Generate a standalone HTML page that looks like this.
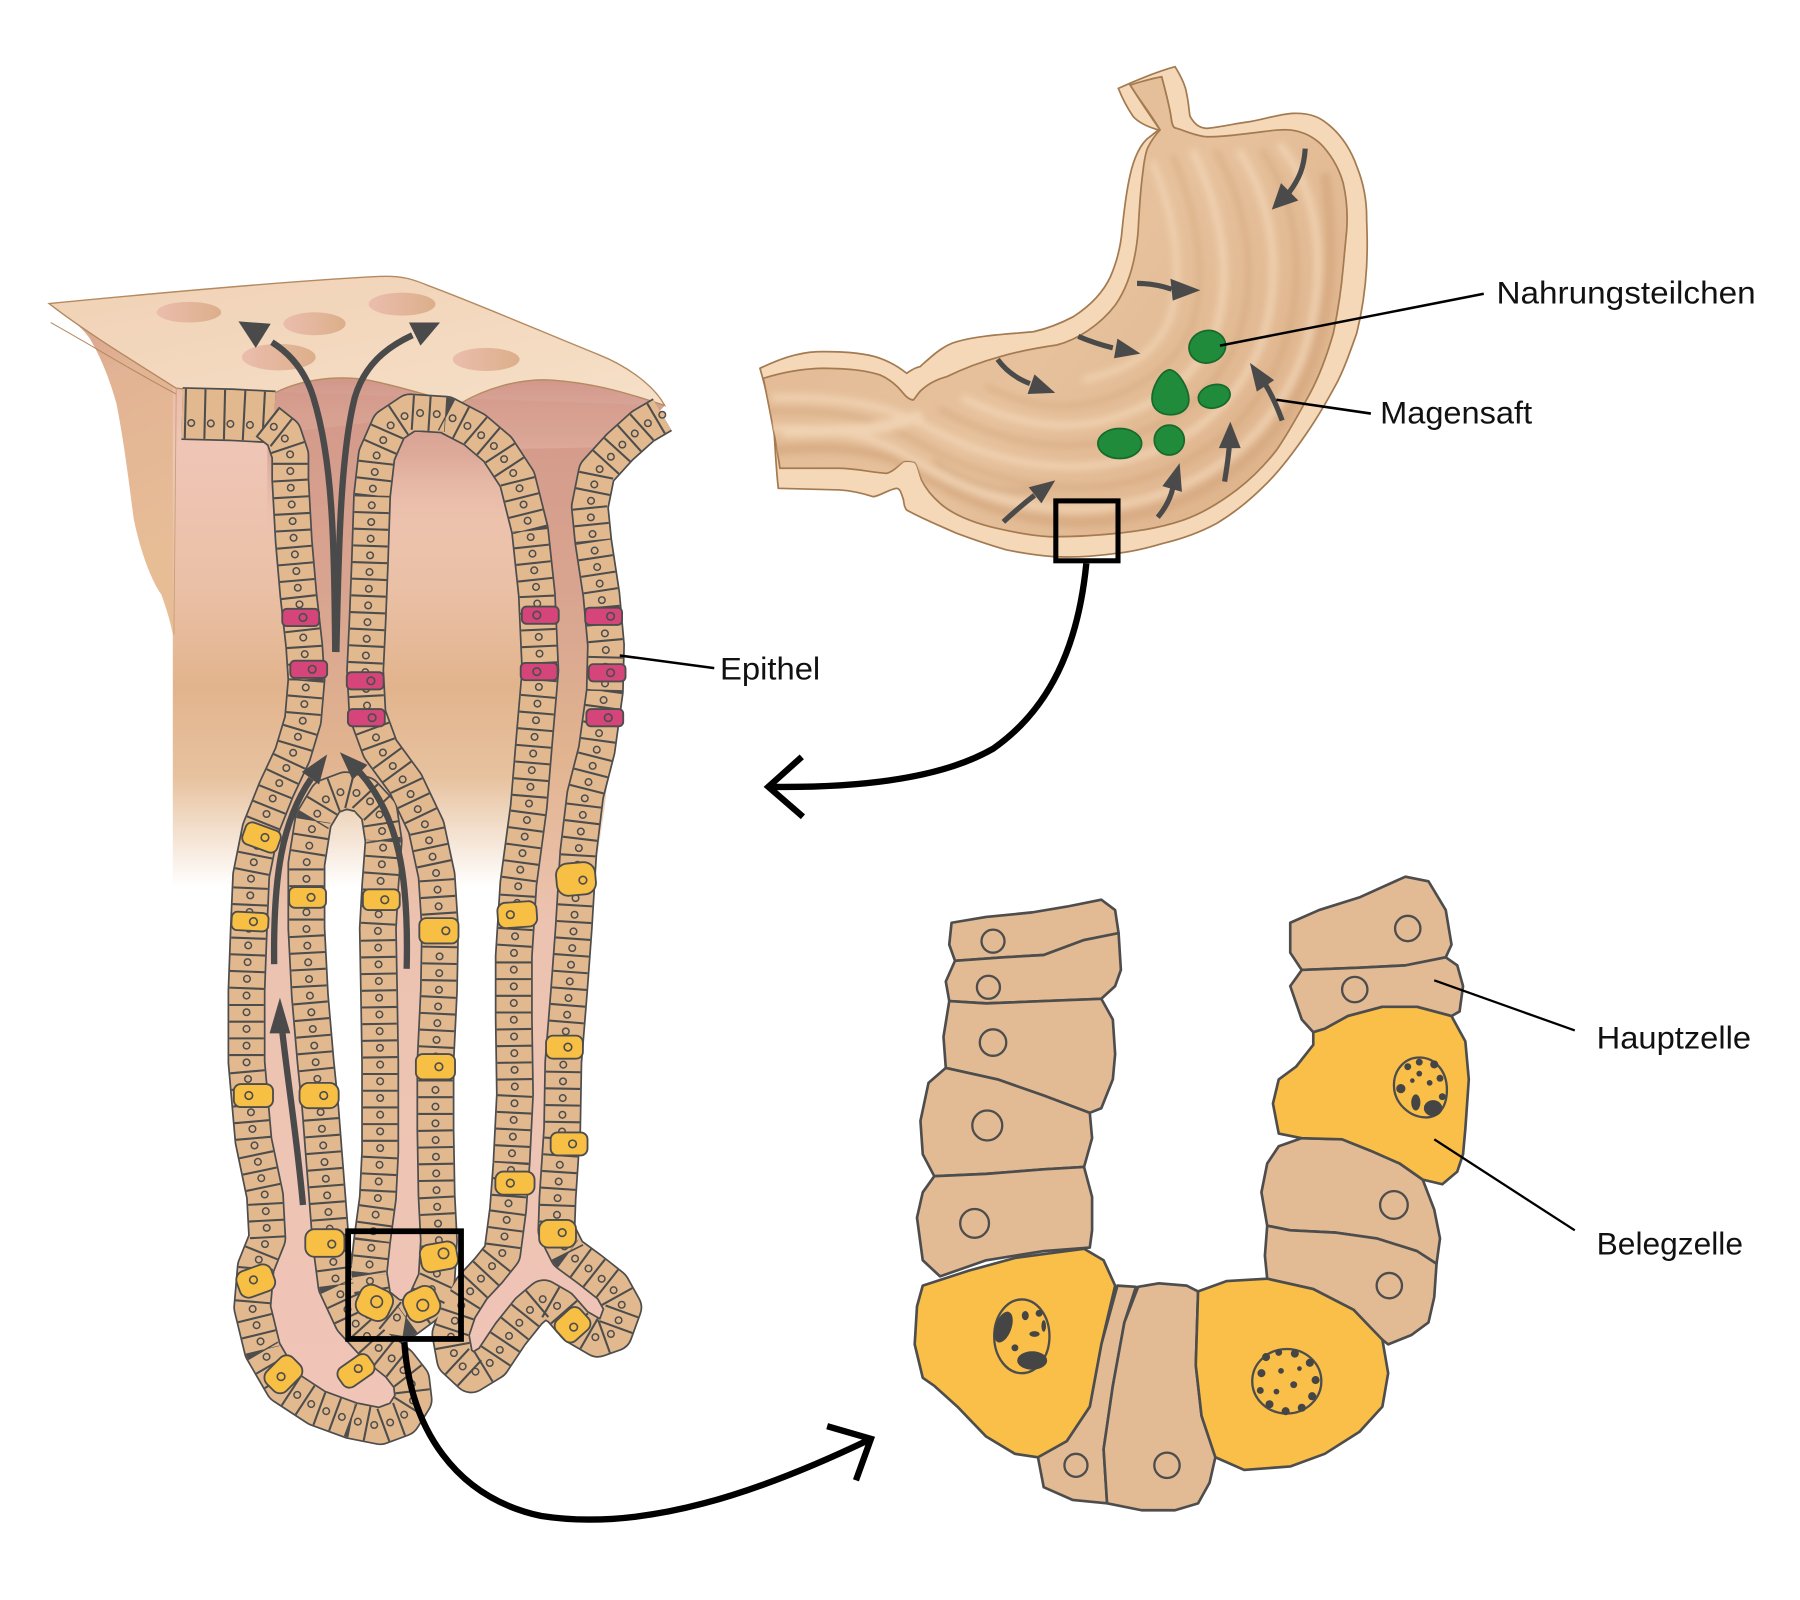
<!DOCTYPE html>
<html><head><meta charset="utf-8">
<style>
html,body{margin:0;padding:0;background:#fff;}
svg{display:block;}
text{font-family:"Liberation Sans",Arial,sans-serif;fill:#111;}
</style></head>
<body>
<svg width="1800" height="1600" viewBox="0 0 1562.5 1388.9" preserveAspectRatio="none" xmlns="http://www.w3.org/2000/svg">
<defs>
  <linearGradient id="faceG" gradientUnits="userSpaceOnUse" x1="0" y1="337" x2="0" y2="770">
    <stop offset="0" stop-color="#ebbcab"/>
    <stop offset="0.12" stop-color="#efc6b6"/>
    <stop offset="0.4" stop-color="#eac0a6"/>
    <stop offset="0.6" stop-color="#e2b48d"/>
    <stop offset="0.78" stop-color="#e7c29f"/>
    <stop offset="0.9" stop-color="#f4e3d3"/>
    <stop offset="1" stop-color="#ffffff"/>
  </linearGradient>
  <linearGradient id="lumG" gradientUnits="userSpaceOnUse" x1="0" y1="360" x2="0" y2="1240">
    <stop offset="0" stop-color="#d49a8b"/>
    <stop offset="0.2" stop-color="#d9a690"/>
    <stop offset="0.33" stop-color="#e1b38f"/>
    <stop offset="0.5" stop-color="#ecc3b0"/>
    <stop offset="1" stop-color="#f0c5b8"/>
  </linearGradient>
  <linearGradient id="domeG" gradientUnits="userSpaceOnUse" x1="0" y1="330" x2="0" y2="460">
    <stop offset="0" stop-color="#d2988a" stop-opacity="1"/>
    <stop offset="0.5" stop-color="#d59d8d" stop-opacity="0.7"/>
    <stop offset="1" stop-color="#e6b7a6" stop-opacity="0"/>
  </linearGradient>
  <linearGradient id="sideG" gradientUnits="userSpaceOnUse" x1="42" y1="263" x2="150" y2="470">
    <stop offset="0" stop-color="#d69e8e"/>
    <stop offset="0.35" stop-color="#e2b394"/>
    <stop offset="1" stop-color="#e7bd96"/>
  </linearGradient>
  <linearGradient id="topG" x1="0" y1="0" x2="1" y2="1">
    <stop offset="0" stop-color="#f0d1b5"/>
    <stop offset="1" stop-color="#f6e0c8"/>
  </linearGradient>
  <linearGradient id="pitG" x1="0" y1="0" x2="1" y2="0">
    <stop offset="0" stop-color="#ebbdae"/>
    <stop offset="1" stop-color="#dcaf8a"/>
  </linearGradient>
  <linearGradient id="cavG" gradientUnits="userSpaceOnUse" x1="700" y1="100" x2="1150" y2="470">
    <stop offset="0" stop-color="#e2b994"/>
    <stop offset="0.5" stop-color="#e6c19c"/>
    <stop offset="1" stop-color="#dcb088"/>
  </linearGradient>
  <filter id="bl" x="-10%" y="-10%" width="120%" height="120%"><feGaussianBlur stdDeviation="3"/></filter>
  <clipPath id="cavClip"><path id="cavPath" d="M981,73.8 C990,71 1000,68 1008.4,66.6 C1012,80 1016,95 1017,105 C1018,110 1019,111 1021.4,111.4 C1030,114 1038,118 1047.5,118.7 C1062,119 1073,117 1085,115.7 C1100,114 1110,112 1119.8,112.8 C1132,114 1142,120 1148.7,127.3 C1158,138 1163,148 1166,159.1 C1169,172 1170,185 1169,199.7 L1166,231.5 C1164,255 1161,272 1157.4,289.3 C1152,308 1146,325 1137.2,341.4 C1128,358 1119,375 1108.2,390.6 C1097,405 1087,415 1073.5,425.3 C1058,437 1043,446 1027.2,451.4 C1008,458 990,461 969.4,463 C950,465 930,466 911.5,465.9 C895,465 875,461 859.4,457.2 C840,452 825,445 816,436.9 C808,430 803,423 800,416.7 C797,408 796,401 792.8,400.8 C788,400 786,400 784.1,400.8 C780,404 776,409 769.7,410.9 C756,410 745,407 729,406.5 L677,406.5 C674,385 668,355 662.6,328.4 C680,323 697,320 714.7,319.7 C735,320 750,321 763.9,325.5 C772,329 779,335 784.1,341.4 C787,345 790,347 792.8,347.2 C795,345 797,341 800,338.5 C806,333 814,329 821.8,327 C836,320 852,314 868,309.6 C884,305 900,302 917.3,299.5 C935,295 955,282 968,265 C980,248 986,225 988,200 C989,180 990,165 992,150 C993,140 995,130 996.8,127.3 C1000,121 1004,116 1007,112.8 C998,100 990,88 981,73.8 Z"/></clipPath>
  <polyline id="ch" points="232,366 246,377 252,395 252,416 255,470 259,516 264,560 266,590 263,625 254,655 240,685 226,720 218,760 216,806 214,860 214,922 220,990 230,1038 232,1075 222,1100 219,1135 228,1172 246,1203 275,1222 305,1233 330,1238 349,1231 359,1215 357,1198 346,1184 326,1168 306,1146 292,1116 287,1077 284,1038 281,1000 278,961 274,922 269,864 266,806 266,750 272,712 284,692 300,686 316,690 329,704 333,730 330,770 328,806 329,860 330,922 330,1000 328,1040 323,1077 320,1105 324,1130 340,1143 353,1145 368,1134 379,1110 381,1077 379,1038 378,980 378,922 381,860 382,806 379,760 370,718 352,680 330,650 319,620 317,582 319,540 321,490 323,430 327,395 338,370 356,358 387,360 412,373 432,390 449,416 460,460 466,516 469,582 464,640 459,700 450,767 446,830 446,884 447,950 444,1010 441,1050 436,1088 424,1103 410,1118 398,1137 391,1158 395,1180 409,1193 427,1182 443,1158 459,1138 472,1127 486,1135 500,1151 519,1162 533,1157 541,1135 531,1117 512,1102 493,1088 483,1068 484,1040 488,980 489,922 494,860 498,806 502,740 508,690 518,651 525,600 526,560 522,516 515,470 512,440 518,410 538,388 558,370 575,360"/>
  <polyline id="tl" points="158,359 200,360 238,362"/>
</defs>

<!-- ================= LEFT BLOCK ================= -->
<path d="M42.6,263.5 C60,275 72,285 78,294 C92,318 98,340 101,350 C108,385 112,420 116,450 C122,480 132,505 140,516 C145,530 148,540 150,551 L153,337 Z" fill="url(#sideG)"/>
<path d="M150,337 L577,352 L560,372 L535,395 L525,430 L530,520 L535,600 L525,700 L515,770 L150,770 Z" fill="url(#faceG)"/>
<path d="M232,345 C255,330 290,325 320,330 C350,336 375,345 400,350 C420,338 450,328 480,330 C520,333 550,343 577,352 L545,385 L528,420 L525,460 L232,460 Z" fill="url(#domeG)"/>
<polygon fill="url(#lumG)" points="248,375 252,395 252,416 255,470 259,516 264,560 266,590 263,625 254,655 240,685 226,720 218,760 216,806 214,860 214,922 220,990 230,1038 232,1075 222,1100 219,1135 228,1172 246,1203 275,1222 305,1233 330,1238 349,1231 359,1215 357,1198 346,1184 326,1168 306,1146 292,1116 287,1077 284,1038 281,1000 278,961 274,922 269,864 266,806 266,750 272,712 284,692 300,686 316,690 329,704 333,730 330,770 328,806 329,860 330,922 330,1000 328,1040 323,1077 320,1105 324,1130 340,1143 353,1145 368,1134 379,1110 381,1077 379,1038 378,980 378,922 381,860 382,806 379,760 370,718 352,680 330,650 319,620 317,582 319,540 321,490 323,430 326,390 338,365"/>
<polygon fill="url(#lumG)" points="432,390 449,416 460,460 466,516 469,582 464,640 459,700 450,767 446,830 446,884 447,950 444,1010 441,1050 436,1088 424,1103 410,1118 398,1137 391,1158 395,1180 409,1193 427,1182 443,1158 459,1138 472,1127 486,1135 500,1151 519,1162 533,1157 541,1135 531,1117 512,1102 493,1088 483,1068 484,1040 488,980 489,922 494,860 498,806 502,740 508,690 518,651 525,600 526,560 522,516 515,470 512,440 518,410 538,388"/>

<path d="M42.6,263.5 C120,256 250,244 329,240 C350,239 360,243 372,248 C420,266 480,292 520,308 C545,318 568,335 577,352 C550,343 520,333 480,330 C450,328 420,338 400,350 C375,345 350,336 320,330 C290,325 255,330 232,345 L153,337 C110,310 70,285 42.6,263.5 Z" fill="url(#topG)" stroke="#b48a60" stroke-width="1.2"/>
<path d="M44,280 C80,300 120,325 153,342" fill="none" stroke="#b48a60" stroke-width="0.9"/>
<path d="M153,337 L151,551" fill="none" stroke="#c9a07a" stroke-width="0.8"/>
<ellipse cx="164" cy="271" rx="28" ry="9" fill="url(#pitG)"/>
<ellipse cx="273" cy="281" rx="27" ry="10" fill="url(#pitG)"/>
<ellipse cx="349" cy="264" rx="29" ry="10" fill="url(#pitG)"/>
<ellipse cx="242" cy="310" rx="32" ry="11.5" fill="url(#pitG)"/>
<ellipse cx="422" cy="312" rx="29" ry="10" fill="url(#pitG)"/>

<g fill="none" stroke-linejoin="round">
  <use href="#tl" stroke="#4d4d4d" stroke-width="46"/>
  <use href="#tl" stroke="#e2b98e" stroke-width="43"/>
  <use href="#tl" stroke="#4d4d4d" stroke-width="43" stroke-dasharray="1.8 15.2" stroke-dashoffset="-2"/>
  <use href="#tl" stroke="#4d4d4d" stroke-width="7" stroke-dasharray="0 17" stroke-dashoffset="-8" stroke-linecap="round" transform="translate(0,8)"/>
  <use href="#tl" stroke="#e2b98e" stroke-width="4.4" stroke-dasharray="0 17" stroke-dashoffset="-8" stroke-linecap="round" transform="translate(0,8)"/>
</g>
<g fill="none" stroke-linejoin="round">
  <use href="#ch" stroke="#4d4d4d" stroke-width="33"/>
  <use href="#ch" stroke="#e2b98e" stroke-width="30"/>
  <use href="#ch" stroke="#4d4d4d" stroke-width="30" stroke-dasharray="1.8 12.7"/>
  <use href="#ch" stroke="#4d4d4d" stroke-width="7" stroke-dasharray="0 14.5" stroke-dashoffset="-7.2" stroke-linecap="round"/>
  <use href="#ch" stroke="#e2b98e" stroke-width="4.4" stroke-dasharray="0 14.5" stroke-dashoffset="-7.2" stroke-linecap="round"/>
</g>

<g stroke="#4d4d4d" stroke-width="1.6">
  <g fill="#d6457a">
    <rect x="-16" y="-7.5" width="32" height="15" rx="4" transform="translate(261,536)"/>
    <rect x="-16" y="-7.5" width="32" height="15" rx="4" transform="translate(268,581)"/>
    <rect x="-16" y="-7.5" width="32" height="15" rx="4" transform="translate(317,591)"/>
    <rect x="-16" y="-7.5" width="32" height="15" rx="4" transform="translate(318,623)"/>
    <rect x="-16" y="-7.5" width="32" height="15" rx="4" transform="translate(469,534)"/>
    <rect x="-16" y="-7.5" width="32" height="15" rx="4" transform="translate(468,583)"/>
    <rect x="-16" y="-7.5" width="32" height="15" rx="4" transform="translate(524,535)"/>
    <rect x="-16" y="-7.5" width="32" height="15" rx="4" transform="translate(527,584)"/>
    <rect x="-16" y="-7.5" width="32" height="15" rx="4" transform="translate(525,623)"/>
  </g>
  <g fill="#f8bf45">
    <rect x="-16" y="-10" width="32" height="20" rx="6" transform="translate(227,727) rotate(20)"/>
    <rect x="-16" y="-8" width="32" height="16" rx="5" transform="translate(217,800) rotate(3)"/>
    <rect x="-16" y="-9" width="32" height="18" rx="5" transform="translate(267,779)"/>
    <rect x="-16" y="-9" width="32" height="18" rx="5" transform="translate(331,781)"/>
    <rect x="-17" y="-11" width="34" height="22" rx="6" transform="translate(381,808)"/>
    <rect x="-17" y="-14" width="34" height="28" rx="10" transform="translate(500,763) rotate(-5)"/>
    <rect x="-17" y="-11" width="34" height="22" rx="7" transform="translate(449,794) rotate(-4)"/>
    <rect x="-17" y="-11" width="34" height="22" rx="6" transform="translate(378,926)"/>
    <rect x="-17" y="-11" width="34" height="22" rx="8" transform="translate(277,951)"/>
    <rect x="-17" y="-10" width="34" height="20" rx="6" transform="translate(220,951)"/>
    <rect x="-16" y="-10" width="32" height="20" rx="6" transform="translate(490,909)"/>
    <rect x="-16" y="-10" width="32" height="20" rx="6" transform="translate(494,993)"/>
    <rect x="-17" y="-10" width="34" height="20" rx="7" transform="translate(447,1027)"/>
    <rect x="-17" y="-12" width="34" height="24" rx="8" transform="translate(282,1079)"/>
    <rect x="-16" y="-12" width="32" height="24" rx="8" transform="translate(381,1091) rotate(-10)"/>
    <rect x="-16" y="-12" width="32" height="24" rx="8" transform="translate(484,1071)"/>
    <rect x="-16" y="-12" width="32" height="24" rx="8" transform="translate(222,1112) rotate(-20)"/>
    <rect x="-15" y="-14" width="30" height="28" rx="10" transform="translate(325,1131) rotate(25)"/>
    <rect x="-15" y="-14" width="30" height="28" rx="10" transform="translate(366,1132) rotate(-25)"/>
    <rect x="-16" y="-12" width="32" height="24" rx="8" transform="translate(246,1193) rotate(-45)"/>
    <rect x="-16" y="-10" width="32" height="20" rx="7" transform="translate(309,1190) rotate(-35)"/>
    <rect x="-14" y="-12" width="28" height="24" rx="7" transform="translate(497,1150) rotate(-42)"/>
  </g>
  <g fill="none" stroke-width="1.4">
    <circle cx="230" cy="727" r="3.3"/><circle cx="220" cy="800" r="3.3"/><circle cx="270" cy="779" r="3.3"/>
    <circle cx="334" cy="781" r="3.3"/><circle cx="387" cy="808" r="3.3"/><circle cx="506" cy="764" r="3.3"/>
    <circle cx="443" cy="794" r="3.3"/><circle cx="381" cy="926" r="3.3"/><circle cx="281" cy="951" r="3.3"/>
    <circle cx="216" cy="951" r="3.3"/><circle cx="493" cy="909" r="3.3"/><circle cx="497" cy="993" r="3.3"/>
    <circle cx="443" cy="1027" r="3.3"/><circle cx="288" cy="1080" r="3.3"/><circle cx="385" cy="1088" r="4.5"/>
    <circle cx="488" cy="1070" r="3.3"/><circle cx="220" cy="1111" r="3.3"/><circle cx="327" cy="1130" r="5"/>
    <circle cx="367" cy="1133" r="5"/><circle cx="244" cy="1195" r="3.3"/><circle cx="311" cy="1188" r="3.3"/>
    <circle cx="498" cy="1152" r="3.3"/>
    <circle cx="263" cy="536" r="3.3"/><circle cx="271" cy="581" r="3.3"/><circle cx="322" cy="591" r="3.3"/>
    <circle cx="323" cy="623" r="3.3"/><circle cx="466" cy="534" r="3.3"/><circle cx="466" cy="583" r="3.3"/>
    <circle cx="530" cy="535" r="3.3"/><circle cx="530" cy="584" r="3.3"/><circle cx="528" cy="623" r="3.3"/>
  </g>
</g>

<g fill="none" stroke="#4a4a4a" stroke-width="5.5">
  <path d="M291,566 C290,470 289,400 272,345 C265,322 252,307 236,297"/>
  <path d="M292,566 C294,470 296,392 308,345 C316,318 334,302 358,291"/>
  <path d="M263,1046 C258,990 250,940 245,895"/>
  <path d="M238,837 C237,760 245,712 270,676"/>
  <path d="M353,841 C355,760 346,708 312,670"/>
</g>
<g fill="#4a4a4a">
  <polygon points="207,279 235,281 222,302"/>
  <polygon points="382,280 355,280 365,300"/>
  <polygon points="243,866 234,897 252,897"/>
  <polygon points="284,655 277,681 262,670"/>
  <polygon points="295,653 319,664 306,677"/>
</g>

<line x1="538" y1="569" x2="620" y2="580" stroke="#000" stroke-width="2.2"/>
<text x="625" y="590" font-size="27" textLength="87" lengthAdjust="spacingAndGlyphs">Epithel</text>

<!-- ================= STOMACH ================= -->
<path d="M970.8,76.7 C990,68 1005,62 1020,57.9 C1025,66 1029,74 1030,81 C1032,90 1032,96 1033,101 C1037,108 1041,111 1047.5,111.4 C1062,110 1073,107 1085,105.6 C1100,103 1110,99 1122.7,98.4 C1134,98 1142,100 1149,105 C1162,114 1172,128 1178,145 C1184,160 1186.5,175 1186.3,190 C1187,210 1187,215 1186.3,231.5 C1185,255 1182,272 1177.7,289.3 C1172,305 1167,320 1160.3,332.7 C1152,348 1144,362 1134.3,376 C1122,394 1110,410 1096.6,422.5 C1083,436 1070,446 1056.2,454.3 C1040,463 1025,468 1009.8,471.6 C995,476 982,479 969.4,480.3 C950,483 930,484 914.3,483.2 C900,482 887,480 873.9,477.4 C858,473 844,468 830.5,463 C815,456 800,450 787,442.7 C784,439 785,436 784,433 C782,427 781,424 778.4,423.9 C771,425 765,430 758,431.2 C748,428 740,426 729,425.3 L675.6,423.9 C673,400 673,385 671.3,367.5 C668,350 664,335 659.7,319.7 C676,312 692,306 709,305.3 C730,305 750,306 764,311 C775,315 782,320 787,324 C790,322 794,319 798.6,318.3 C808,310 818,300 830.5,296.6 C850,291 875,290 897,288 C910,285 922,280 931.7,274.9 C947,265 958,253 964,240 C970,226 973,212 974,200 C976,180 978,165 981,152 C984,138 990,124 998.3,118.6 L1005.5,112.8 C996,110 988,106 983.8,101.3 C978,93 974,85 970.8,76.7 Z" fill="#f4d8b8" stroke="#a47a50" stroke-width="1.5"/>
<use href="#cavPath" fill="url(#cavG)" stroke="#a47a50" stroke-width="1.5"/>
<g clip-path="url(#cavClip)" fill="none" filter="url(#bl)">
  <path d="M1150,150 C1160,220 1155,290 1125,345 C1095,400 1040,440 960,452 C900,458 840,440 790,405 C750,385 700,388 660,392" stroke="#d4a77d" stroke-width="9" opacity="0.7"/>
  <path d="M1110,125 C1150,170 1152,250 1130,310 C1105,375 1050,428 960,440 C900,447 840,430 780,392 C740,370 700,372 665,372" stroke="#f1d5b5" stroke-width="7" opacity="0.8"/>
  <path d="M1095,130 C1130,180 1133,250 1113,305 C1090,365 1040,410 960,422 C905,428 850,415 790,380 C745,355 705,357 665,357" stroke="#cfa277" stroke-width="4" opacity="0.6"/>
  <path d="M1075,130 C1110,185 1112,250 1094,300 C1072,352 1030,392 958,403 C905,410 855,398 800,368 C760,348 720,345 670,345" stroke="#f1d5b5" stroke-width="7" opacity="0.8"/>
  <path d="M1055,130 C1088,190 1090,250 1074,295 C1054,340 1020,372 958,384 C910,392 865,382 815,355" stroke="#cfa277" stroke-width="4" opacity="0.6"/>
  <path d="M1035,130 C1066,195 1068,250 1054,290 C1036,328 1008,352 955,366 C915,374 875,366 835,345" stroke="#f1d5b5" stroke-width="7" opacity="0.8"/>
  <path d="M1018,135 C1045,200 1046,250 1034,285 C1020,315 995,335 955,348 C920,357 890,352 855,335" stroke="#cfa277" stroke-width="4" opacity="0.55"/>
  <path d="M1000,140 C1025,200 1026,250 1014,280 C1000,310 975,322 940,330" stroke="#f1d5b5" stroke-width="6" opacity="0.8"/>
  <path d="M680,375 C720,372 760,378 800,360" stroke="#f0d3b3" stroke-width="10"/>
  <path d="M810,400 C840,420 870,430 900,425" stroke="#c99d72" stroke-width="5" opacity="0.5"/>
</g>
<path d="M981,73.8 C990,88 1000,100 1007,112.8" fill="none" stroke="#a47a50" stroke-width="1.3"/>
<path d="M1008.4,66.6 C1012,80 1016,95 1017,105 C1018,110 1019,111 1021.4,111.4" fill="none" stroke="#a47a50" stroke-width="1.3"/>

<g fill="#1f8b3b" stroke="#17692c" stroke-width="1.5">
  <ellipse cx="1048" cy="301" rx="16" ry="14" transform="rotate(-15 1048 301)"/>
  <path d="M1016,321 C1024,323 1032,338 1032,347 C1032,356 1024,360 1016,360 C1006,360 1000,354 1000,346 C1000,336 1008,321 1016,321 Z"/>
  <ellipse cx="1054" cy="344" rx="14" ry="10" transform="rotate(-15 1054 344)"/>
  <ellipse cx="972" cy="385" rx="19" ry="13"/>
  <ellipse cx="1015" cy="382" rx="13" ry="13"/>
</g>
<g fill="none" stroke="#4a4a4a" stroke-width="4.5">
  <path d="M1133,129 C1132,145 1128,155 1119,167"/>
  <path d="M987,246 Q1002,246 1017,251"/>
  <path d="M936,292 Q950,298 966,302"/>
  <path d="M1113,365 Q1106,346 1098,333"/>
  <path d="M1063,418 Q1066,400 1067,388"/>
  <path d="M1005,449 Q1015,437 1018,424"/>
  <path d="M866,312 Q876,326 894,333"/>
  <path d="M871,453 Q885,440 898,430"/>
</g>
<g fill="#4a4a4a">
  <polygon points="1104,182 1127,174 1112,159"/>
  <polygon points="1042,252 1016,242 1018,261"/>
  <polygon points="990,307 967,311 970,294"/>
  <polygon points="1085,315 1106,330 1091,340"/>
  <polygon points="1068,366 1058,389 1077,389"/>
  <polygon points="1024,402 1026,427 1009,422"/>
  <polygon points="916,341 892,342 898,325"/>
  <polygon points="916,417 904,437 893,423"/>
</g>
<line x1="1059" y1="300" x2="1288" y2="255" stroke="#000" stroke-width="2.2"/>
<text x="1299" y="263.5" font-size="27" textLength="225" lengthAdjust="spacingAndGlyphs">Nahrungsteilchen</text>
<line x1="1108" y1="347" x2="1190" y2="359" stroke="#000" stroke-width="2.2"/>
<text x="1198" y="367.5" font-size="27" textLength="132" lengthAdjust="spacingAndGlyphs">Magensaft</text>

<!-- ================= BIG CONNECTORS ================= -->
<rect x="916.5" y="434.8" width="54" height="52" fill="none" stroke="#000" stroke-width="4.4"/>
<path d="M943,489 C936,560 912,615 862,650 C815,677 740,684 668,683" fill="none" stroke="#000" stroke-width="5.5"/>
<polyline points="696,657 667,683 697,709" fill="none" stroke="#000" stroke-width="5.5"/>

<rect x="302.2" y="1068.8" width="98" height="93.5" fill="none" stroke="#000" stroke-width="5"/>
<path d="M351,1165 C356,1240 395,1300 470,1316 C560,1330 660,1295 754,1250" fill="none" stroke="#000" stroke-width="5.5"/>
<polyline points="718,1238 756,1249 743,1285" fill="none" stroke="#000" stroke-width="5.5"/>

<!-- ================= CELL CLUSTER ================= -->
<g stroke="#4d4d4d" stroke-width="2.3" stroke-linejoin="round">
  <g fill="#e2ba93">
    <polygon points="826,801 856,796 896,792 926,787 956,781 968,790 971,810 941,816 906,829 871,831 829,834 824,820"/>
    <polygon points="829,834 871,831 906,829 941,816 971,810 973,842 968,856 956,867 906,869 856,871 824,869 821,852"/>
    <polygon points="824,869 856,871 906,869 956,867 966,885 968,915 966,937 956,962 946,966 906,951 866,937 821,927 819,900"/>
    <polygon points="821,927 866,937 906,951 946,966 948,988 941,1013 906,1015 856,1019 811,1021 801,1002 799,973 806,940"/>
    <polygon points="811,1021 856,1019 906,1015 941,1013 948,1039 948,1068 946,1083 906,1086 856,1094 816,1108 801,1094 796,1057 801,1035"/>
    <polygon points="970,1116 986,1117 976,1148 966,1203 958,1258 961,1305 931,1302 906,1291 901,1265 926,1251 946,1221 956,1167"/>
    <polygon points="988,1117 1006,1114 1030,1116 1040,1121 1038,1185 1043,1229 1055,1265 1050,1287 1040,1305 1020,1311 991,1311 961,1305 958,1258 966,1203 976,1148"/>
    <polygon points="1120,801 1145,790 1180,779 1220,761 1240,765 1255,790 1260,820 1255,831 1220,838 1180,840 1130,842 1120,827"/>
    <polygon points="1130,842 1180,840 1220,838 1255,831 1265,838 1270,856 1267,878 1260,882 1230,874 1200,874 1170,882 1150,893 1140,896 1130,885 1120,856"/>
    <polygon points="1110,995 1130,988 1165,989 1190,999 1215,1010 1235,1024 1245,1050 1250,1075 1247,1097 1230,1086 1195,1075 1160,1070 1120,1068 1100,1064 1095,1035 1100,1010"/>
    <polygon points="1100,1064 1120,1068 1160,1070 1195,1075 1230,1086 1247,1097 1245,1126 1240,1148 1225,1159 1205,1167 1195,1159 1175,1137 1140,1119 1100,1110 1098,1090"/>
  </g>
  <g fill="#f9bf48">
    <polygon points="801,1116 841,1103 881,1092 911,1088 941,1084 958,1094 968,1116 956,1167 946,1221 926,1251 901,1265 881,1262 856,1247 831,1221 811,1203 801,1196 794,1167 796,1134"/>
    <polygon points="1040,1121 1065,1112 1100,1110 1140,1119 1175,1137 1200,1163 1205,1192 1200,1221 1180,1243 1150,1262 1120,1273 1080,1276 1055,1265 1043,1229 1038,1185"/>
    <polygon points="1140,896 1150,893 1170,882 1200,874 1230,874 1260,882 1272,904 1275,937 1272,980 1270,1002 1265,1017 1252,1028 1235,1024 1215,1010 1190,999 1165,989 1130,988 1110,984 1105,958 1110,937 1125,926 1140,907"/>
  </g>
  <g fill="none" stroke-width="2">
    <circle cx="862" cy="817" r="10"/>
    <circle cx="858" cy="857" r="10"/>
    <circle cx="862" cy="905" r="11.5"/>
    <circle cx="857" cy="977" r="13"/>
    <circle cx="846" cy="1062" r="12.5"/>
    <circle cx="934" cy="1272" r="10"/>
    <circle cx="1013" cy="1272" r="11"/>
    <circle cx="1222" cy="806" r="11"/>
    <circle cx="1176" cy="859" r="11"/>
    <circle cx="1210" cy="1046" r="12"/>
    <circle cx="1206" cy="1116" r="11"/>
  </g>
  <ellipse cx="887" cy="1160" rx="24" ry="32" fill="#f9bf48" stroke-width="2"/>
  <ellipse cx="1117" cy="1199" rx="30" ry="28" fill="#f9bf48" stroke-width="2"/>
  <path d="M1232,918 C1246,918 1256,930 1256,946 C1256,962 1248,970 1238,970 C1224,970 1210,958 1210,942 C1210,928 1220,918 1232,918 Z" fill="#f9bf48" stroke-width="2"/>
</g>
<g fill="#454545">
  <ellipse cx="871" cy="1152" rx="7" ry="14" transform="rotate(20 871 1152)"/>
  <ellipse cx="896" cy="1181" rx="13" ry="8"/>
  <ellipse cx="890" cy="1142" rx="3" ry="4"/>
  <ellipse cx="902" cy="1140" rx="3" ry="3"/>
  <ellipse cx="898" cy="1158" rx="4.5" ry="2.5"/>
  <ellipse cx="881" cy="1170" rx="3" ry="3"/>
  <ellipse cx="906" cy="1151" rx="2" ry="5"/>
  <circle cx="1095" cy="1192" r="3.5"/><circle cx="1099" cy="1178" r="3.5"/><circle cx="1110" cy="1174" r="3"/>
  <circle cx="1124" cy="1175" r="3.5"/><circle cx="1137" cy="1183" r="3.5"/><circle cx="1142" cy="1198" r="3.5"/>
  <circle cx="1139" cy="1212" r="3.5"/><circle cx="1130" cy="1222" r="3.5"/><circle cx="1116" cy="1225" r="3.5"/>
  <circle cx="1102" cy="1219" r="3.5"/><circle cx="1094" cy="1207" r="3"/><circle cx="1112" cy="1190" r="2.5"/>
  <circle cx="1123" cy="1202" r="3"/><circle cx="1108" cy="1208" r="2.5"/><circle cx="1128" cy="1188" r="2"/>
  <circle cx="1222" cy="926" r="3"/><circle cx="1232" cy="922" r="3"/><circle cx="1245" cy="924" r="3.5"/>
  <circle cx="1250" cy="936" r="3"/><circle cx="1216" cy="945" r="4"/><circle cx="1232" cy="932" r="2.5"/>
  <circle cx="1241" cy="940" r="2.5"/><circle cx="1226" cy="938" r="2"/>
  <ellipse cx="1244" cy="962" rx="8" ry="7"/>
  <ellipse cx="1229" cy="957" rx="4" ry="7"/>
  <circle cx="1252" cy="952" r="3"/>
</g>
<line x1="1245" y1="851" x2="1367" y2="894.5" stroke="#000" stroke-width="2"/>
<text x="1386" y="910" font-size="27" textLength="134" lengthAdjust="spacingAndGlyphs">Hauptzelle</text>
<line x1="1245" y1="989" x2="1367" y2="1068" stroke="#000" stroke-width="2"/>
<text x="1386" y="1089" font-size="27" textLength="127" lengthAdjust="spacingAndGlyphs">Belegzelle</text>
</svg>
</body></html>
